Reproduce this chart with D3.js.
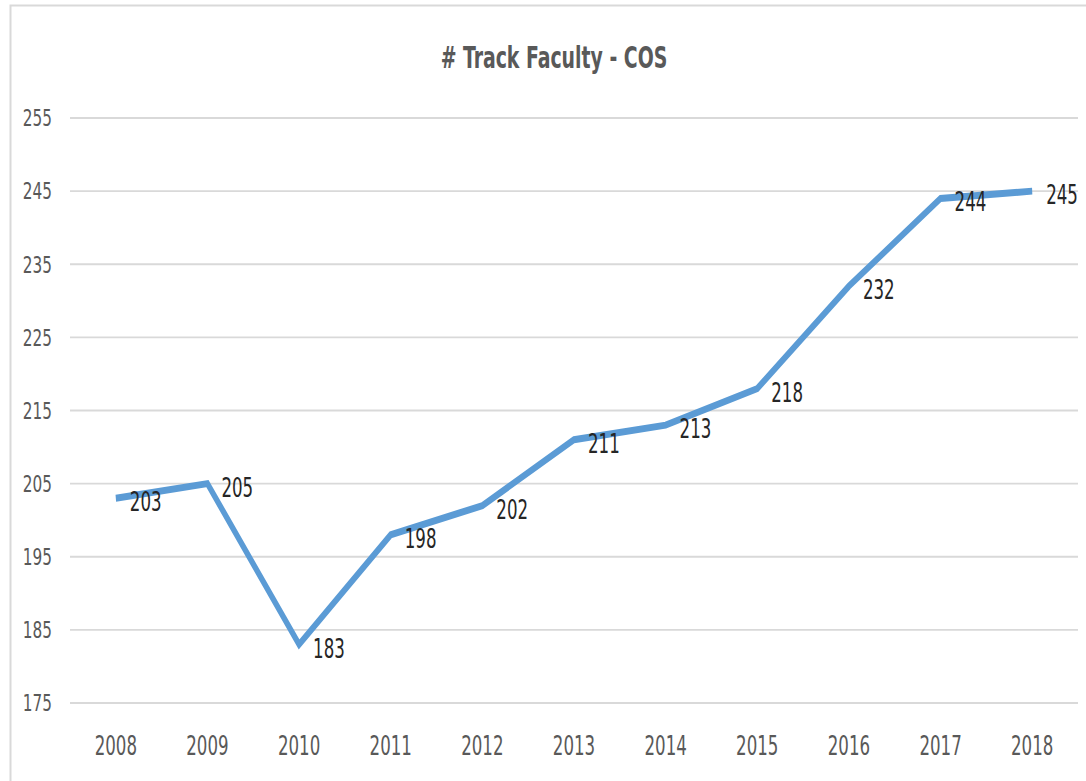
<!DOCTYPE html>
<html>
<head>
<meta charset="utf-8">
<script src="https://cdn.jsdelivr.net/npm/d3@7"></script>
<style>
body { margin: 0; background: #fff; }
text { font-family: "DejaVu Sans Condensed", "DejaVu Sans", sans-serif; font-stretch: condensed; }
</style>
</head>
<body>
<div id="chart-area"></div>
<script>
// Data
var years = ["2008", "2009", "2010", "2011", "2012", "2013", "2014", "2015", "2016", "2017", "2018"];
var faculty = [203, 205, 183, 198, 202, 211, 213, 218, 232, 244, 245];
var yTicks = [175, 185, 195, 205, 215, 225, 235, 245, 255];

// The source picture is stretched vertically, so draw in a squashed
// space and stretch it back with sy
var sy = 1.4;

// Canvas
var canvasWidth = 1086;
var canvasHeight = 781;
var margin = {top: 118, right: 8, bottom: 78, left: 70};
var chartWidth = canvasWidth - margin.left - margin.right;
var chartHeight = (canvasHeight - margin.top - margin.bottom) / sy;

var svg = d3.select("#chart-area")
	.append("svg")
	.attr("width", canvasWidth)
	.attr("height", canvasHeight);

// Outer frame
svg.append("rect")
	.attr("x", 10.5)
	.attr("y", 5.5)
	.attr("width", canvasWidth + 20)
	.attr("height", canvasHeight + 20)
	.attr("fill", "#fff")
	.attr("stroke", "#d9d9d9")
	.attr("stroke-width", 2);

var root = svg.append("g")
	.attr("transform", "scale(1," + sy + ")");

// Title
root.append("text")
	.attr("x", 554)
	.attr("y", 68 / sy)
	.attr("font-size", 21)
	.attr("font-weight", "bold")
	.attr("fill", "#595959")
	.attr("text-anchor", "middle")
	.text("# Track Faculty - COS");

var chartArea = root.append("g")
	.attr("transform", "translate(" + margin.left + "," + (margin.top / sy) + ")");

// Scales
var x = d3.scaleBand()
	.domain(years)
	.range([0, chartWidth]);

var y = d3.scaleLinear()
	.domain([175, 255])
	.range([chartHeight, 0]);

// Gridlines
chartArea.append("g")
	.selectAll("line")
	.data(yTicks)
	.enter()
	.append("line")
	.attr("x1", 0)
	.attr("x2", chartWidth)
	.attr("y1", function(d) { return y(d); })
	.attr("y2", function(d) { return y(d); })
	.attr("stroke", "#d9d9d9")
	.attr("stroke-width", 1.4);

// Y axis
var yAxis = chartArea.append("g")
	.call(d3.axisLeft(y).tickValues(yTicks).tickSize(0).tickPadding(18));
yAxis.select(".domain").remove();
yAxis.selectAll("text")
	.attr("font-size", 17)
	.attr("fill", "#595959")
	.style("font-family", null);

// X axis
var xAxis = chartArea.append("g")
	.attr("transform", "translate(0," + chartHeight + ")")
	.call(d3.axisBottom(x).tickSize(0).tickPadding(24));
xAxis.select(".domain").remove();
xAxis.selectAll("text")
	.attr("font-size", 18.5)
	.attr("fill", "#595959")
	.style("font-family", null);

// Line
var line = d3.line()
	.x(function(d, i) { return x(years[i]) + x.bandwidth() / 2; })
	.y(function(d) { return y(d); });

chartArea.append("path")
	.datum(faculty)
	.attr("d", line)
	.attr("fill", "none")
	.attr("stroke", "#5b9bd5")
	.attr("stroke-width", 5)
	.attr("stroke-linejoin", "miter");

// Data labels
chartArea.selectAll(".dlabel")
	.data(faculty)
	.enter()
	.append("text")
	.attr("class", "dlabel")
	.attr("x", function(d, i) { return x(years[i]) + x.bandwidth() / 2 + 14; })
	.attr("y", function(d) { return y(d) + 9.3; })
	.attr("font-size", 18.5)
	.attr("fill", "#262626")
	.text(function(d) { return d; });
</script>
</body>
</html>
